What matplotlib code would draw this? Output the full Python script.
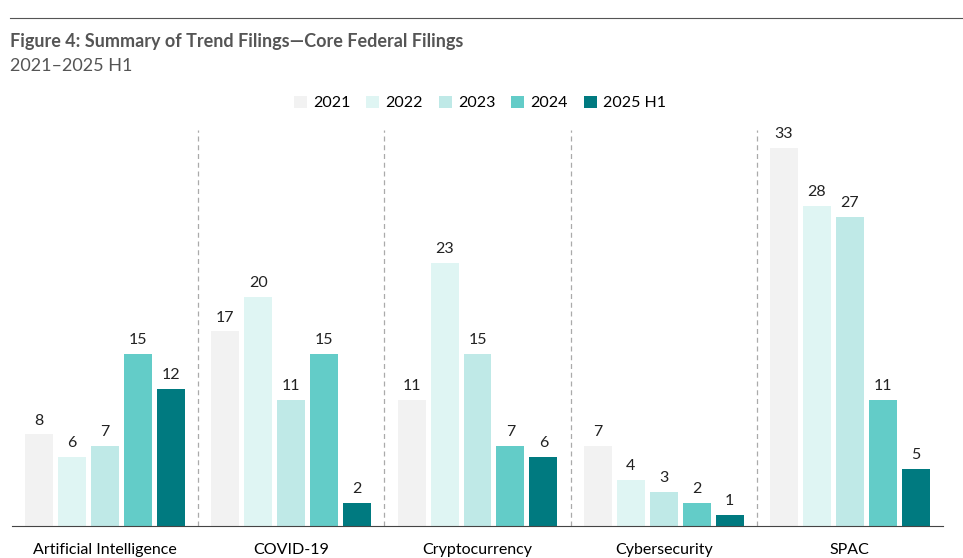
import matplotlib.pyplot as plt
from matplotlib.lines import Line2D

plt.rcParams['font.family'] = ['Lato', 'DejaVu Sans']

categories = ["Artificial Intelligence", "COVID-19", "Cryptocurrency", "Cybersecurity", "SPAC"]
years = ["2021", "2022", "2023", "2024", "2025 H1"]
values = [
    [8, 17, 11, 7, 33],
    [6, 20, 23, 4, 28],
    [7, 11, 15, 3, 27],
    [15, 15, 7, 2, 11],
    [12, 2, 6, 1, 5],
]
colors = ["#f2f2f2", "#dff5f3", "#bfe9e7", "#63ccc8", "#007a80"]

fig = plt.figure(figsize=(9.63, 5.58), dpi=100)
ax = fig.add_axes([12 / 963, 32 / 558, 931 / 963, 396 / 558])

w = 0.15
step = 0.177
for i, (yr, vals) in enumerate(zip(years, values)):
    xs = [c + (i - 2) * step for c in range(len(categories))]
    bars = ax.bar(xs, vals, width=w, color=colors[i], label=yr)
    for x, v in zip(xs, vals):
        ax.text(x, v + 0.6, str(v), ha='center', va='bottom', fontsize=11.5, color='#222222')

for s in [0.5, 1.5, 2.5, 3.5]:
    ax.axvline(s, color='#aaaaaa', ls=(0, (4, 3)), lw=0.9)

ax.set_xlim(-0.5, 4.5)
ax.set_ylim(0, 34.6)
ax.set_xticks(range(len(categories)))
ax.set_xticklabels(categories, fontsize=11.5)
ax.tick_params(axis='x', length=0, pad=12)
ax.set_yticks([])
for sp in ['top', 'left', 'right']:
    ax.spines[sp].set_visible(False)
ax.spines['bottom'].set_color('#444444')

fig.add_artist(Line2D([10 / 963, 1.0], [1 - 18 / 558, 1 - 18 / 558], color='#555555', lw=0.8))
fig.text(10 / 963, 1 - 42 / 558, "Figure 4: Summary of Trend Filings\u2014Core Federal Filings",
         fontsize=13, fontweight='bold', color='#555555', va='center')
fig.text(10 / 963, 1 - 66 / 558, "2021\u20132025 H1", fontsize=13, color='#555555', va='center')

fig.legend(loc='center', bbox_to_anchor=(480 / 963, 1 - 103 / 558), ncol=5, frameon=False,
           fontsize=11.5, handlelength=0.8, handleheight=0.8, columnspacing=1.0, handletextpad=0.4)

fig.savefig("out.png", dpi=100)
